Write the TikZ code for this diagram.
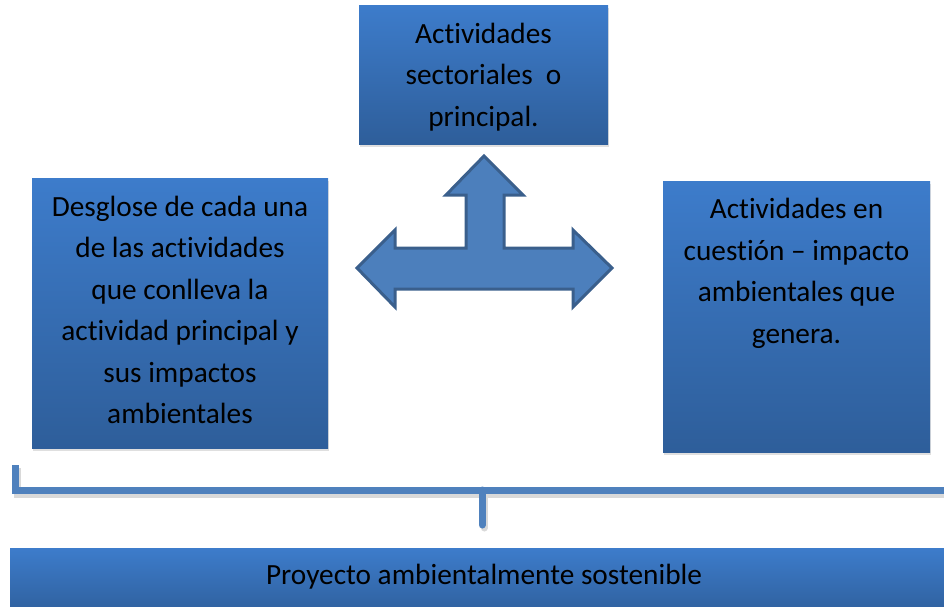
\documentclass[tikz,border=0pt]{standalone}
\usepackage{fontspec}
\setmainfont{Carlito}[Ligatures={NoCommon}]
\usetikzlibrary{shadows}
\definecolor{boxtop}{HTML}{3D7CCB}
\definecolor{boxbot}{HTML}{2E5E9A}
\definecolor{arrowfill}{HTML}{4C7FBC}
\definecolor{arrowline}{HTML}{3A5F8C}
\definecolor{brk}{HTML}{4F81BD}
\begin{document}
\begin{tikzpicture}[x=1pt,y=-1pt,
  box/.style={draw=none, top color=boxtop, bottom color=boxbot,
    drop shadow={opacity=0.25, shadow xshift=1pt, shadow yshift=-3pt},
    inner sep=0pt},
  lbl/.style={font=\fontsize{29.3}{41.5}\selectfont, align=center, text=black},
  brkline/.style={brk, line width=7pt},
  brkshadow/.style={black!15, line width=7pt}]
\useasboundingbox (0,0) rectangle (944,606);
% boxes
\node[box, minimum width=249pt, minimum height=139pt] (top) at (483.5,74.5) {};
\node[box, minimum width=296pt, minimum height=270pt] (left) at (180,313) {};
\node[box, minimum width=267pt, minimum height=271pt] (right) at (796.5,316.5) {};
\node[box, minimum width=944pt, minimum height=70pt, anchor=north west] (bar) at (10,548) {};
% texts
\node[lbl] (toptxt) at (483.5,77) {Actividades\\sectoriales\ \ o\\principal.};
\node[lbl] (lefttxt) at (180,310) {Desglose de cada una\\de las actividades\\que conlleva la\\actividad principal y\\sus impactos\\ambientales};
\node[lbl] (righttxt) at (796.5,273.5) {Actividades en\\cuesti\'on -- impacto\\ambientales que\\genera.};
\node[lbl] (bartxt) at (484,577) {Proyecto ambientalmente sostenible};
% three-way arrow
\draw[arrowline, fill=arrowfill, line width=3pt, line join=miter]
  (484,156) -- (523,195) -- (504,195) -- (504,248) -- (573,248) -- (573,230)
  -- (612,268) -- (573,307) -- (573,289) -- (395,289) -- (395,307)
  -- (357,268) -- (395,230) -- (395,248) -- (466,248) -- (466,195)
  -- (446,195) -- cycle;
% bracket
\coordinate (bl) at (15,465);
\coordinate (br) at (944,490);
\coordinate (bm) at (482,490);
\coordinate (bs) at (482,525);
\coordinate (bls) at (17,468);
\coordinate (brs) at (944,494);
\coordinate (bms) at (484,494);
\coordinate (bss) at (484,528);
\draw[brkshadow] (bls) |- (brs);
\draw[brkshadow, line cap=round] (bms) -- (bss);
\draw[brkline] (bl) |- (br);
\draw[brkline, line cap=round] (bm) -- (bs);
\end{tikzpicture}
\end{document}
